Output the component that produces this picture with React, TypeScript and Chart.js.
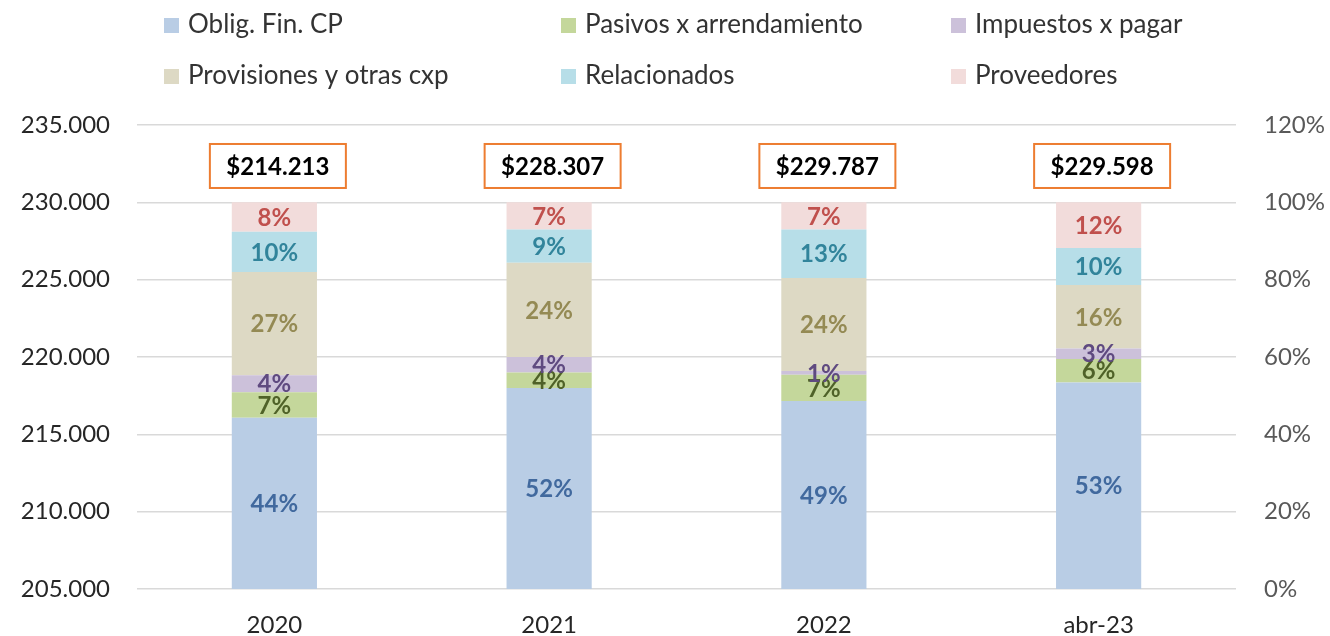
import React, { useEffect, useRef } from "react";
import { Chart, registerables } from "chart.js";

Chart.register(...registerables);

const categories = ["2020", "2021", "2022", "abr-23"];

const seriesNames = [
  "Oblig. Fin. CP",
  "Pasivos x arrendamiento",
  "Impuestos x pagar",
  "Provisiones y otras cxp",
  "Relacionados",
  "Proveedores",
];

// share of each component (%)
const obligFinCP = [44.3, 52.0, 48.6, 53.4];
const pasivosArrendamiento = [6.6, 4.0, 6.8, 6.1];
const impuestosPagar = [4.4, 4.0, 1.0, 2.7];
const provisionesOtras = [26.7, 24.4, 24.0, 16.4];
const relacionados = [10.4, 8.6, 12.6, 9.6];
const proveedores = [7.6, 7.0, 7.0, 11.8];

const totals = [214213, 228307, 229787, 229598];

const leftTicks = [205000, 210000, 215000, 220000, 225000, 230000, 235000];
const rightTicks = [0, 20, 40, 60, 80, 100, 120];

const fillColors = ["#B9CDE5", "#C4D79B", "#CCC1DA", "#DDD9C4", "#B7DEE8", "#F2DCDB"];
const labelColors = ["#41699E", "#4F6228", "#5F4A80", "#948A54", "#31849B", "#C0504D"];

const FONT = "Lato, 'Open Sans', sans-serif";

const fmtThousands = (v: number) =>
  String(Math.round(v)).replace(/\B(?=(\d{3})+(?!\d))/g, ".");

const segmentLabels = {
  id: "segmentLabels",
  afterDatasetsDraw(chart: any) {
    const ctx = chart.ctx;
    ctx.save();
    ctx.font = `bold 24px ${FONT}`;
    ctx.textAlign = "center";
    ctx.textBaseline = "middle";
    chart.data.datasets.forEach((ds: any, i: number) => {
      const meta = chart.getDatasetMeta(i);
      meta.data.forEach((el: any, j: number) => {
        const v = ds.data[j];
        const cy = (el.y + el.base) / 2;
        ctx.fillStyle = labelColors[i];
        ctx.fillText(Math.round(v) + "%", el.x, cy + 1);
      });
    });
    ctx.restore();
  },
};

const totalBoxes = {
  id: "totalBoxes",
  afterDatasetsDraw(chart: any) {
    const ctx = chart.ctx;
    const meta = chart.getDatasetMeta(0);
    const yScale = chart.scales.y1;
    ctx.save();
    meta.data.forEach((el: any, j: number) => {
      const cx = el.x + 3.5;
      const cy = yScale.getPixelForValue(109.4);
      const w = 136;
      const h = 44;
      ctx.fillStyle = "#FFFFFF";
      ctx.fillRect(cx - w / 2, cy - h / 2, w, h);
      ctx.strokeStyle = "#ED7D31";
      ctx.lineWidth = 2;
      ctx.strokeRect(cx - w / 2, cy - h / 2, w, h);
      ctx.fillStyle = "#000000";
      ctx.font = `bold 24px ${FONT}`;
      ctx.textAlign = "center";
      ctx.textBaseline = "middle";
      ctx.fillText("$" + fmtThousands(totals[j]), cx, cy + 1);
    });
    ctx.restore();
  },
};

const gridLegend = {
  id: "gridLegend",
  afterDraw(chart: any) {
    const ctx = chart.ctx;
    const colX = [188, 585, 975];
    const rowBase = [33, 84];
    ctx.save();
    ctx.font = `26px ${FONT}`;
    ctx.textAlign = "left";
    ctx.textBaseline = "alphabetic";
    chart.data.datasets.forEach((ds: any, i: number) => {
      const col = i % 3;
      const row = Math.floor(i / 3);
      const x = colX[col];
      const y = rowBase[row];
      ctx.fillStyle = ds.backgroundColor;
      ctx.fillRect(x - 24, y - 15, 15, 15);
      ctx.fillStyle = "#333333";
      ctx.fillText(ds.label, x, y);
    });
    ctx.restore();
  },
};

export default function App() {
  const ref = useRef<HTMLCanvasElement | null>(null);

  useEffect(() => {
    if (!ref.current) return;
    const values = [
      obligFinCP,
      pasivosArrendamiento,
      impuestosPagar,
      provisionesOtras,
      relacionados,
      proveedores,
    ];
    const chart = new Chart(ref.current, {
      type: "bar",
      data: {
        labels: categories,
        datasets: values.map((d, i) => ({
          label: seriesNames[i],
          data: d,
          backgroundColor: fillColors[i],
          borderWidth: 0,
          yAxisID: "y1",
          stack: "s",
          barPercentage: 0.31,
          categoryPercentage: 1,
        })),
      },
      options: {
        responsive: true,
        maintainAspectRatio: false,
        animation: false,
        layout: { padding: { top: 125, left: 0, right: 0, bottom: 0 } },
        plugins: {
          legend: { display: false },
          tooltip: { enabled: false },
          title: { display: false },
        },
        scales: {
          x: {
            stacked: true,
            grid: { display: false, drawTicks: false },
            border: { display: false },
            ticks: {
              color: "#262626",
              font: { family: FONT, size: 24 },
              padding: 22,
            },
            afterFit: (s: any) => {
              s.height = 47;
            },
          },
          y: {
            position: "left",
            min: leftTicks[0],
            max: leftTicks[leftTicks.length - 1],
            afterBuildTicks: (s: any) => {
              s.ticks = leftTicks.map((v) => ({ value: v }));
            },
            grid: { color: "#D9D9D9", lineWidth: 1.5, drawTicks: false },
            border: { display: false },
            ticks: {
              color: "#262626",
              font: { family: FONT, size: 24 },
              padding: 27,
              callback: (v: any) => fmtThousands(Number(v)),
            },
            afterFit: (s: any) => {
              s.width = 137;
            },
          },
          y1: {
            position: "right",
            stacked: true,
            min: rightTicks[0],
            max: rightTicks[rightTicks.length - 1],
            afterBuildTicks: (s: any) => {
              s.ticks = rightTicks.map((v) => ({ value: v }));
            },
            grid: { display: false, drawTicks: false },
            border: { display: false },
            ticks: {
              color: "#595959",
              font: { family: FONT, size: 24 },
              padding: 28,
              callback: (v: any) => v + "%",
            },
            afterFit: (s: any) => {
              s.width = 94;
            },
          },
        },
      },
      plugins: [segmentLabels, totalBoxes, gridLegend],
    } as any);
    return () => chart.destroy();
  }, []);

  return (
    <div
      style={{
        position: "fixed",
        left: 0,
        top: 0,
        width: 1330,
        height: 636,
        background: "#FFFFFF",
      }}
    >
      <canvas ref={ref} />
    </div>
  );
}
